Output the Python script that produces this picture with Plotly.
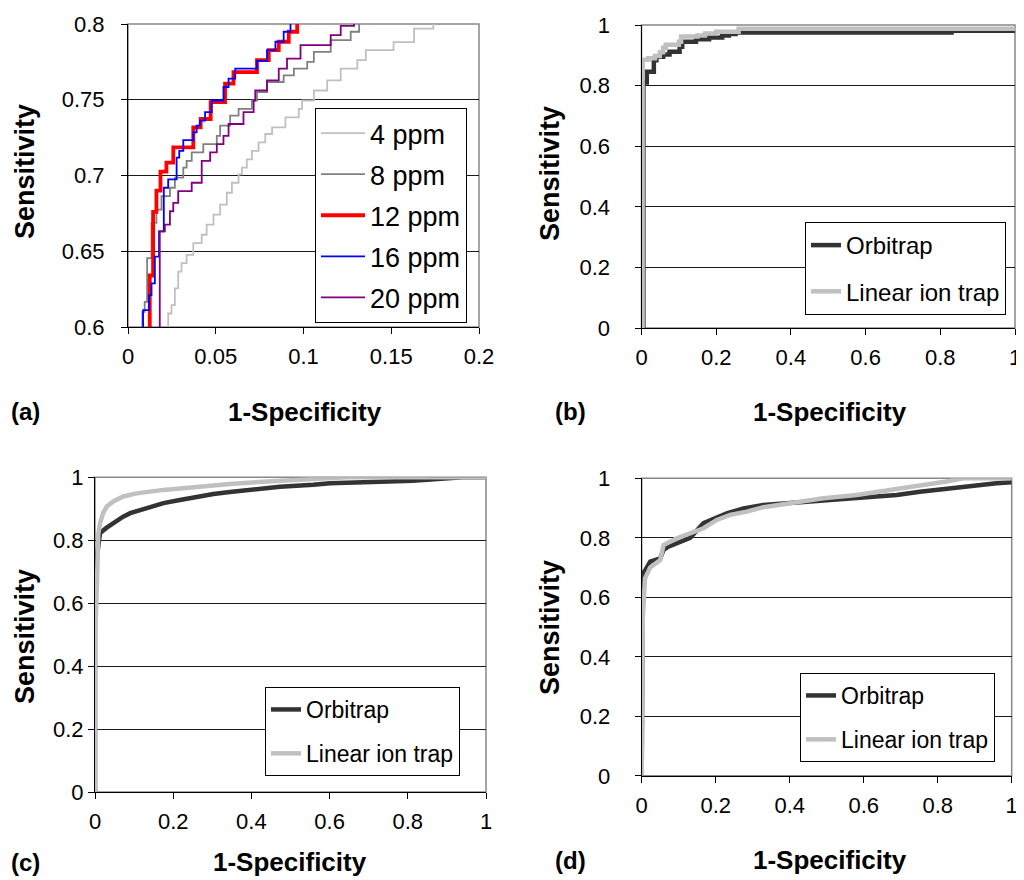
import plotly.graph_objects as go

# ---------------- data ----------------
# Panel (a): ROC curves for mass tolerances (zoomed region)
fpr_4ppm = [0.0229, 0.0229, 0.0248, 0.0267, 0.0286, 0.0305, 0.0334, 0.0372, 0.0420, 0.0448, 0.0487, 0.0525,
            0.0563, 0.0592, 0.0630, 0.0649, 0.0677, 0.0706, 0.0744, 0.0782, 0.0821, 0.0897, 0.0973, 0.0992,
            0.1059, 0.1135, 0.1212, 0.1307, 0.1355, 0.1513, 0.1630, 0.1740]
tpr_4ppm = [0.58, 0.6089, 0.6144, 0.6255, 0.6365, 0.6421, 0.6476, 0.6554, 0.6609, 0.6676, 0.6742, 0.6808,
            0.6886, 0.6952, 0.7008, 0.7052, 0.7107, 0.7163, 0.7218, 0.7274, 0.7318, 0.7384, 0.7440, 0.7495,
            0.7561, 0.7628, 0.7705, 0.7761, 0.7827, 0.7880, 0.7970, 0.8100]

fpr_8ppm = [0.0082, 0.0082, 0.0095, 0.0109, 0.0134, 0.0162, 0.0191, 0.0239, 0.0267, 0.0315, 0.0334, 0.0363,
            0.0429, 0.0506, 0.0525, 0.0582, 0.0630, 0.0706, 0.0735, 0.0792, 0.0887, 0.0945, 0.1021, 0.1059,
            0.1155, 0.1269, 0.1317]
tpr_8ppm = [0.58, 0.6100, 0.6166, 0.6454, 0.6687, 0.6775, 0.6864, 0.6919, 0.6986, 0.7052, 0.7096, 0.7152,
            0.7207, 0.7262, 0.7329, 0.7395, 0.7440, 0.7495, 0.7550, 0.7617, 0.7661, 0.7705, 0.7750, 0.7816,
            0.7894, 0.7949, 0.8100]

fpr_12ppm = [0.0124, 0.0124, 0.0143, 0.0162, 0.0185, 0.0219, 0.0258, 0.0372, 0.0414, 0.0471, 0.0553, 0.0601,
             0.0735, 0.0802, 0.0859, 0.0916, 0.0964]
tpr_12ppm = [0.58, 0.634, 0.676, 0.690, 0.7025, 0.7085, 0.7185, 0.7318, 0.7373, 0.7484, 0.7606, 0.7683,
             0.7761, 0.7827, 0.7883, 0.7949, 0.81]

fpr_16ppm = [0.0086, 0.0086, 0.0120, 0.0134, 0.0153, 0.0177, 0.0204, 0.0229, 0.0277, 0.0292, 0.0315, 0.0372,
             0.0391, 0.0410, 0.0439, 0.0477, 0.0544, 0.0573, 0.0611, 0.0735, 0.0792, 0.0840, 0.0887, 0.0926]
tpr_16ppm = [0.58, 0.6111, 0.621, 0.6288, 0.6465, 0.6631, 0.6919, 0.6975, 0.7118, 0.7163, 0.7234, 0.7285,
             0.7329, 0.7362, 0.7418, 0.7495, 0.7584, 0.7639, 0.7705, 0.7756, 0.7827, 0.7883, 0.7949, 0.81]

fpr_20ppm = [0.0181, 0.0181, 0.0210, 0.0239, 0.0258, 0.0286, 0.0363, 0.0420, 0.0468, 0.0506, 0.0544, 0.0573,
             0.0658, 0.0716, 0.0725, 0.0792, 0.0859, 0.0906, 0.0983, 0.1155, 0.1212, 0.1288]
tpr_20ppm = [0.58, 0.6631, 0.6676, 0.6764, 0.6819, 0.6897, 0.6952, 0.7096, 0.7152, 0.7207, 0.7262, 0.7340,
             0.7418, 0.7495, 0.7561, 0.7628, 0.7705, 0.7772, 0.7860, 0.7927, 0.7987, 0.81]

# Panel (b)
b_orbi_fpr = [0, 0.005, 0.014, 0.033, 0.040, 0.058, 0.075, 0.102, 0.109, 0.146, 0.181, 0.216, 0.234, 0.252, 0.83, 1.0]
b_orbi_tpr = [0, 0.81, 0.846, 0.884, 0.895, 0.903, 0.912, 0.928, 0.945, 0.953, 0.959, 0.965, 0.970, 0.975, 0.981, 0.982]
b_lit_fpr = [0, 0.003, 0.018, 0.036, 0.049, 0.058, 0.065, 0.10, 0.106, 0.15, 0.17, 0.20, 0.26, 1.0]
b_lit_tpr = [0, 0.885, 0.89, 0.898, 0.91, 0.925, 0.935, 0.945, 0.962, 0.965, 0.972, 0.978, 0.988, 0.99]

# Panel (c)
c_orbi_fpr = [0, 0, 0.005, 0.013, 0.030, 0.047, 0.072, 0.090, 0.132, 0.175, 0.217, 0.260, 0.303, 0.345, 0.388,
              0.430, 0.473, 0.558, 0.601, 0.686, 0.813, 0.94, 1.0]
c_orbi_tpr = [0, 0.62, 0.75, 0.823, 0.84, 0.855, 0.875, 0.886, 0.902, 0.918, 0.928, 0.939, 0.947, 0.953, 0.958,
              0.965, 0.970, 0.976, 0.981, 0.984, 0.989, 1.0, 1.0]
c_lit_fpr = [0, 0, 0.004, 0.0085, 0.013, 0.021, 0.030, 0.047, 0.072, 0.107, 0.175, 0.260, 0.345, 0.430, 0.516,
             0.601, 0.644, 1.0]
c_lit_tpr = [0, 0.49, 0.62, 0.82, 0.855, 0.887, 0.907, 0.923, 0.939, 0.949, 0.960, 0.970, 0.979, 0.986, 0.991,
             0.997, 1.0, 1.0]

# Panel (d)
d_orbi_fpr = [0, 0, 0.003, 0.009, 0.023, 0.050, 0.059, 0.072, 0.095, 0.113, 0.131, 0.167, 0.203, 0.230, 0.275,
              0.329, 0.392, 0.491, 0.599, 0.644, 0.689, 0.752, 0.824, 0.869, 0.959, 1.0]
d_orbi_tpr = [0, 0.546, 0.68, 0.69, 0.72, 0.731, 0.759, 0.77, 0.782, 0.793, 0.80, 0.849, 0.866, 0.882, 0.899,
              0.910, 0.916, 0.925, 0.933, 0.938, 0.944, 0.955, 0.966, 0.972, 0.983, 0.987]
d_lit_fpr = [0, 0.003, 0.009, 0.023, 0.050, 0.059, 0.095, 0.131, 0.167, 0.203, 0.239, 0.284, 0.329, 0.401, 0.491,
             0.581, 0.644, 0.734, 0.824, 0.869, 1.0]
d_lit_tpr = [0, 0.535, 0.664, 0.70, 0.725, 0.776, 0.798, 0.815, 0.832, 0.86, 0.877, 0.888, 0.903, 0.916, 0.933,
             0.944, 0.955, 0.972, 0.989, 1.0, 1.0]

ppm_names = ["4 ppm", "8 ppm", "12 ppm", "16 ppm", "20 ppm"]
series_names = ["Orbitrap", "Linear ion trap"]
panel_labels = ["(a)", "(b)", "(c)", "(d)"]

# ---------------- layout helpers ----------------
# the page body adds an 8 px margin, so the figure is laid out in page pixels minus that offset
OFF = 8
W, H = 1016, 872
FONT = "Liberation Sans, Arial, sans-serif"


def px(x):
    return (x - OFF) / W


def py(y):
    return 1 - (y - OFF) / H


fig = go.Figure()

# panel (a)
ppm_fpr = [fpr_4ppm, fpr_8ppm, fpr_12ppm, fpr_16ppm, fpr_20ppm]
ppm_tpr = [tpr_4ppm, tpr_8ppm, tpr_12ppm, tpr_16ppm, tpr_20ppm]
ppm_colors = ["#c0c0c0", "#808080", "#ff0000", "#0000ff", "#800080"]
ppm_widths = [1.8, 1.8, 3.8, 1.8, 1.8]
for i, name in enumerate(ppm_names):
    fig.add_trace(go.Scatter(x=ppm_fpr[i], y=ppm_tpr[i], mode="lines", name=name,
                             line=dict(color=ppm_colors[i], width=ppm_widths[i], shape="hv"),
                             xaxis="x", yaxis="y", legend="legend", legendgroup=f"a{i}"))

orbi_color = "#333333"
lit_color = "#c0c0c0"
panels = [
    ("x2", "y2", "legend2", b_orbi_fpr, b_orbi_tpr, b_lit_fpr, b_lit_tpr, "hv"),
    ("x3", "y3", "legend3", c_orbi_fpr, c_orbi_tpr, c_lit_fpr, c_lit_tpr, "linear"),
    ("x4", "y4", "legend4", d_orbi_fpr, d_orbi_tpr, d_lit_fpr, d_lit_tpr, "linear"),
]
for k, (xa, ya, lg, of, ot, lf, lt, shp) in enumerate(panels):
    fig.add_trace(go.Scatter(x=of, y=ot, mode="lines", name=series_names[0],
                             line=dict(color=orbi_color, width=4.5, shape=shp),
                             xaxis=xa, yaxis=ya, legend=lg, legendgroup=f"p{k}o"))
    fig.add_trace(go.Scatter(x=lf, y=lt, mode="lines", name=series_names[1],
                             line=dict(color=lit_color, width=4.5, shape=shp),
                             xaxis=xa, yaxis=ya, legend=lg, legendgroup=f"p{k}l"))

# plot-area boxes in page pixels: (left, top, right, bottom)
boxes = {
    "1": (128, 24, 479, 327),
    "2": (641.5, 25, 1015, 328),
    "3": (95, 477.3, 486, 792),
    "4": (641.7, 478.3, 1011.7, 775.8),
}
ranges = {
    "1": ([0, 0.2], 0.05, [0.6, 0.8], 0.05),
    "2": ([0, 1], 0.2, [0, 1], 0.2),
    "3": ([0, 1], 0.2, [0, 1], 0.2),
    "4": ([0, 1], 0.2, [0, 1], 0.2),
}
ystandoff = {"1": 12, "2": 20, "3": 0, "4": 20}
xstandoff = {"1": 4, "2": 4, "3": 4, "4": 4}

tickfont = dict(family=FONT, size=22, color="black")
for key, (l, t, r, b) in boxes.items():
    xr, xd, yr, yd = ranges[key]
    sfx = "" if key == "1" else key
    fig.layout["xaxis" + sfx] = dict(
        domain=[px(l), px(r)], range=xr, dtick=xd, tick0=0, anchor="y" + sfx,
        showline=True, linecolor="black", linewidth=1, ticks="outside", ticklen=6,
        tickcolor="black", showgrid=False, zeroline=False, tickfont=tickfont,
        ticklabelstandoff=xstandoff[key], ticklabeloverflow="allow",
        fixedrange=True, automargin=False)
    fig.layout["yaxis" + sfx] = dict(
        domain=[py(b), py(t)], range=yr, dtick=yd, tick0=0, anchor="x" + sfx,
        showline=True, linecolor="black", linewidth=1, ticks="outside", ticklen=6,
        tickcolor="black", showgrid=True, gridcolor="#1a1a1a", gridwidth=1,
        zeroline=False, tickfont=tickfont, ticklabelstandoff=ystandoff[key],
        ticklabeloverflow="allow", fixedrange=True, automargin=False)
    fig.add_shape(type="rect", xref=f"x{sfx} domain", yref=f"y{sfx} domain",
                  x0=0, x1=1, y0=0, y1=1, line=dict(color="#888888", width=1.5), layer="below")

# legends
fig.update_layout(
    legend=dict(x=px(315), y=py(108), xanchor="left", yanchor="top",
                bordercolor="black", borderwidth=1, bgcolor="white",
                font=dict(family=FONT, size=27, color="black"),
                tracegroupgap=3, itemwidth=44),
    legend2=dict(x=px(805), y=py(222), xanchor="left", yanchor="top",
                 bordercolor="black", borderwidth=1, bgcolor="white",
                 font=dict(family=FONT, size=24, color="black"),
                 tracegroupgap=12, itemwidth=30),
    legend3=dict(x=px(265), y=py(687), xanchor="left", yanchor="top",
                 bordercolor="black", borderwidth=1, bgcolor="white",
                 font=dict(family=FONT, size=23, color="black"),
                 tracegroupgap=11, itemwidth=30),
    legend4=dict(x=px(800), y=py(673), xanchor="left", yanchor="top",
                 bordercolor="black", borderwidth=1, bgcolor="white",
                 font=dict(family=FONT, size=23, color="black"),
                 tracegroupgap=11, itemwidth=30),
)

# annotations: axis titles and panel labels
xtitle_font = dict(family=FONT, size=26, color="black")
ytitle_font = dict(family=FONT, size=27, color="black")
sens_pos = [(25, 172), (550, 174), (25, 637), (550, 628)]
spec_pos = [(305, 412), (830, 412), (290, 862), (830, 860)]
lab_pos = [(25, 411), (570, 411), (25, 862), (570, 860)]
for i in range(4):
    fig.add_annotation(text="<b>Sensitivity</b>", x=px(sens_pos[i][0]), y=py(sens_pos[i][1]),
                       xref="paper", yref="paper", textangle=-90, showarrow=False, font=ytitle_font,
                       xanchor="center", yanchor="middle", borderpad=0)
    fig.add_annotation(text="<b>1-Specificity</b>", x=px(spec_pos[i][0]), y=py(spec_pos[i][1]),
                       xref="paper", yref="paper", showarrow=False, font=xtitle_font,
                       xanchor="center", yanchor="middle")
    fig.add_annotation(text=f"<b>{panel_labels[i]}</b>", x=px(lab_pos[i][0]), y=py(lab_pos[i][1]),
                       xref="paper", yref="paper", showarrow=False, font=dict(family=FONT, size=24, color="black"),
                       xanchor="center", yanchor="middle")

fig.update_layout(width=W, height=H, margin=dict(l=0, r=0, t=0, b=0, pad=0, autoexpand=False),
                  paper_bgcolor="white", plot_bgcolor="white", showlegend=True)

fig.write_html("out.html")
